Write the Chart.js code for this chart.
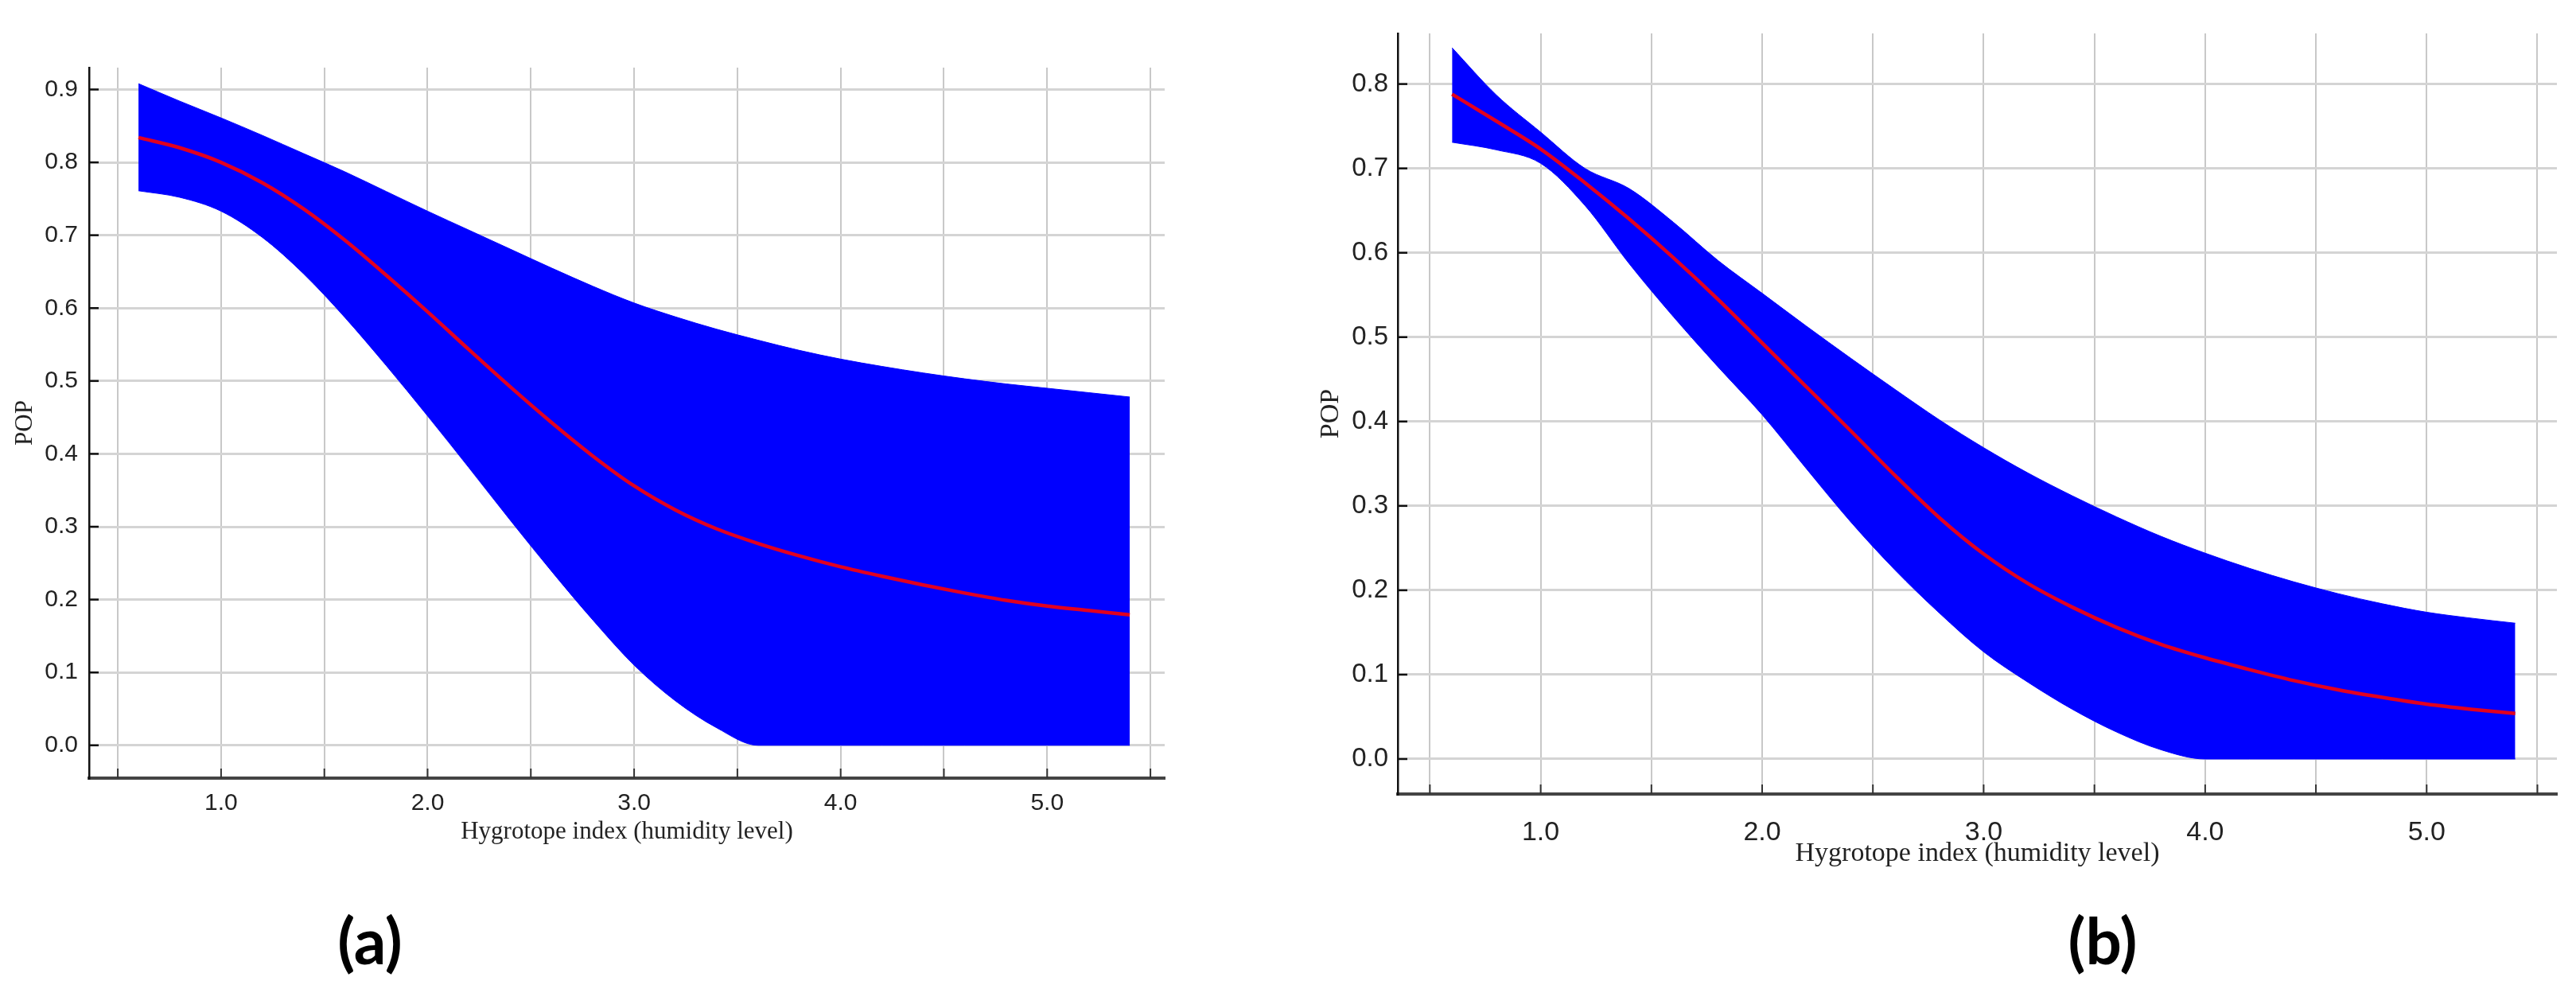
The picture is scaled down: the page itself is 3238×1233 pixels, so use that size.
<!DOCTYPE html>
<html>
<head>
<meta charset="utf-8">
<script src="https://cdn.jsdelivr.net/npm/chart.js@4.4.0/dist/chart.umd.min.js"></script>
<style>
  html, body { margin: 0; padding: 0; background: #fff; }
  body { width: 3238px; height: 1233px; position: relative; overflow: hidden; }
  .panel { position: absolute; }
  .caption {
    position: absolute;
    font-family: Lato, 'Liberation Sans', sans-serif;
    font-weight: 700;
    font-size: 80px;
    color: #000;
    transform: translate(-50%, -50%);
  }
</style>
</head>
<body>
<div class="panel" style="left:0;top:0;width:1500px;height:1120px"><canvas id="chartA"></canvas></div>
<div class="panel" style="left:1640px;top:0;width:1598px;height:1140px"><canvas id="chartB"></canvas></div>
<div class="caption" style="left:465px;top:1181px">(a)</div>
<div class="caption" style="left:2643px;top:1181px">(b)</div>

<script>
// ============================================
//  DATA
// ============================================
const hygIndex = [0.6, 0.8, 1.0, 1.2, 1.4, 1.6, 1.8, 2.0, 2.2, 2.4, 2.6, 2.8, 3.0,
                  3.2, 3.4, 3.6, 3.8, 4.0, 4.2, 4.4, 4.6, 4.8, 5.0, 5.2, 5.4];
const labelledX = [1, 2, 3, 4, 5];

// panel (a)
const meanA  = [0.834, 0.820, 0.800, 0.772, 0.736, 0.693, 0.645, 0.595, 0.543, 0.492, 0.443, 0.397, 0.356,
                0.323, 0.297, 0.277, 0.260, 0.245, 0.232, 0.220, 0.209, 0.199, 0.191, 0.185, 0.179];
const upperA = [0.908, 0.884, 0.861, 0.837, 0.812, 0.787, 0.760, 0.733, 0.707, 0.681, 0.655, 0.630, 0.607,
                0.588, 0.571, 0.556, 0.542, 0.530, 0.520, 0.511, 0.503, 0.496, 0.490, 0.484, 0.478];
const lowerA = [0.761, 0.752, 0.733, 0.697, 0.647, 0.587, 0.521, 0.452, 0.381, 0.309, 0.239, 0.172, 0.110,
                0.061, 0.024, 0, 0, 0, 0, 0, 0, 0, 0, 0, 0];

// panel (b)
const meanB  = [0.788, 0.756, 0.723, 0.683, 0.640, 0.594, 0.545, 0.493, 0.441, 0.389, 0.336, 0.286, 0.243,
                0.208, 0.180, 0.156, 0.136, 0.120, 0.106, 0.093, 0.082, 0.073, 0.065, 0.059, 0.054];
const upperB = [0.843, 0.787, 0.743, 0.700, 0.676, 0.636, 0.591, 0.552, 0.513, 0.475, 0.438, 0.402, 0.369,
                0.339, 0.312, 0.287, 0.264, 0.244, 0.226, 0.210, 0.196, 0.184, 0.174, 0.167, 0.161];
const lowerB = [0.731, 0.722, 0.706, 0.656, 0.587, 0.524, 0.465, 0.408, 0.344, 0.281, 0.224, 0.173, 0.127,
                0.091, 0.059, 0.032, 0.011, 0, 0, 0, 0, 0, 0, 0, 0];

const BLUE = '#0000ff';
const RED = '#e2001f';
const SANS = "'Liberation Sans', Arial, sans-serif";
const SERIF = "'Liberation Serif', 'Times New Roman', serif";

// small ticks drawn inside the plot, along both axes
const innerTicks = {
  id: 'innerTicks',
  afterDraw(chart) {
    const { ctx, chartArea: a, scales: { x, y } } = chart;
    ctx.save();
    ctx.lineWidth = 2.5;
    ctx.strokeStyle = '#111';
    y.ticks.forEach(t => {
      const py = y.getPixelForValue(t.value);
      ctx.beginPath(); ctx.moveTo(a.left, py); ctx.lineTo(a.left + 12, py); ctx.stroke();
    });
    ctx.lineWidth = 2;
    ctx.strokeStyle = '#333';
    x.ticks.forEach(t => {
      const px = x.getPixelForValue(t.value);
      ctx.beginPath(); ctx.moveTo(px, a.bottom); ctx.lineTo(px, a.bottom - 12); ctx.stroke();
    });
    ctx.restore();
  }
};

function panel(id, mean, upper, lower, o) {
  const pts = ys => hygIndex.map((x, i) => ({ x, y: ys[i] }));
  return new Chart(document.getElementById(id), {
    type: 'line',
    data: {
      datasets: [
        { data: pts(mean), borderColor: RED, borderWidth: 4.5, order: 0 },
        { data: pts(lower), borderColor: BLUE, borderWidth: 1, order: 1 },
        { data: pts(upper), borderColor: BLUE, borderWidth: 1, backgroundColor: BLUE, fill: 1, order: 1 }
      ]
    },
    options: {
      animation: false,
      responsive: true,
      maintainAspectRatio: false,
      layout: { padding: { top: o.top, right: o.right, left: 0, bottom: 0 } },
      elements: {
        point: { radius: 0 },
        line: { cubicInterpolationMode: 'monotone', fill: false }
      },
      plugins: { legend: { display: false }, tooltip: { enabled: false } },
      scales: {
        x: {
          type: 'linear',
          min: o.xMin,
          max: o.xMax,
          afterFit: s => { s.height = o.xAxisH; },
          grid: { color: '#c8c8c8', lineWidth: 2, drawTicks: false },
          border: { color: '#444', width: 4 },
          ticks: {
            stepSize: 0.5,
            includeBounds: false,
            autoSkip: false,
            maxRotation: 0,
            padding: o.xPad,
            color: '#222',
            font: { family: SANS, size: o.xFont },
            callback: v => labelledX.some(l => Math.abs(l - v) < 1e-6) ? v.toFixed(1) : ''
          },
          title: {
            display: true,
            text: 'Hygrotope index (humidity level)',
            color: '#222',
            font: { family: SERIF, size: o.titleFont },
            padding: { top: 0, bottom: o.xTitlePad }
          }
        },
        y: {
          min: o.yMin,
          max: o.yMax,
          afterFit: s => { s.width = o.yAxisW; },
          grid: { color: '#d4d4d4', lineWidth: 3, drawTicks: false },
          border: { color: '#111', width: 2.5 },
          ticks: {
            stepSize: 0.1,
            includeBounds: false,
            padding: o.yPad,
            color: '#222',
            font: { family: SANS, size: o.yFont },
            callback: v => v.toFixed(1)
          },
          title: {
            display: true,
            text: 'POP',
            color: '#222',
            font: { family: SERIF, size: o.titleFont },
            padding: { top: o.yTitlePad, bottom: 0 }
          }
        }
      }
    },
    plugins: [innerTicks]
  });
}

panel('chartA', meanA, upperA, lowerA, {
  top: 85, right: 36, yAxisW: 112, xAxisH: 142,
  xMin: 0.361, xMax: 5.569, yMin: -0.045, yMax: 0.93,
  yFont: 30, xFont: 30, titleFont: 31,
  yPad: 14, xPad: 14, xTitlePad: 56, yTitlePad: 13
});

panel('chartB', meanB, upperB, lowerB, {
  top: 42, right: 24, yAxisW: 117, xAxisH: 142,
  xMin: 0.355, xMax: 5.588, yMin: -0.0415, yMax: 0.86,
  yFont: 33, xFont: 34, titleFont: 34,
  yPad: 12, xPad: 28, xTitlePad: 47, yTitlePad: 13
});
</script>
</body>
</html>
